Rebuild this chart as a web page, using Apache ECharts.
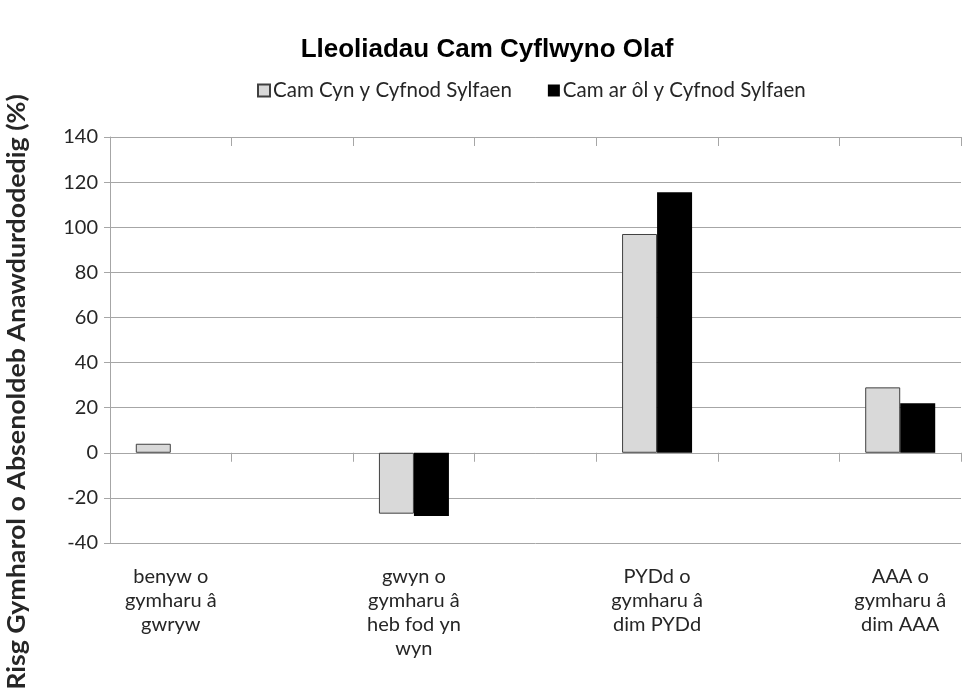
<!DOCTYPE html>
<html><head><meta charset="utf-8">
<script src="https://cdn.jsdelivr.net/npm/echarts@6/dist/echarts.min.js"></script>
<style>html,body{margin:0;padding:0;background:#fff}#c{width:967px;height:696px}</style>
</head><body><div id="c"></div>
<script>
const titleText = "Lleoliadau Cam Cyflwyno Olaf";
const yAxisName = "Risg Gymharol o Absenoldeb Anawdurdodedig (%)";
const categories = ["benyw o\ngymharu â\ngwryw", "", "gwyn o\ngymharu â\nheb fod yn\nwyn", "", "PYDd o\ngymharu â\ndim PYDd", "", "AAA o\ngymharu â\ndim AAA"];
const seriesNames = ["Cam Cyn y Cyfnod Sylfaen", "Cam ar ôl y Cyfnod Sylfaen"];
const beforeValues = [4, null, -27, null, 97, null, 29];
const afterValues = [0, null, -28, null, 115.5, null, 22];
const yMin = -40, yMax = 140, yInterval = 20;

const txt = '#262626';
const gridCol = '#a6a6a6';
const labelFont = 'Lato, "Open Sans", sans-serif';

const chart = echarts.init(document.getElementById('c'));
chart.setOption({
  animation: false,
  backgroundColor: '#fff',
  title: {
    text: titleText, left: 482, textAlign: 'center', top: 32,
    textStyle: {fontFamily: '"Liberation Sans", Arial, sans-serif', fontWeight: 'bold', fontSize: 26, color: '#000'}
  },
  legend: {
    top: 75, left: 252, itemWidth: 12, itemHeight: 12, itemGap: 36,
    icon: 'rect',
    textStyle: {fontFamily: labelFont, fontSize: 20.5, color: txt, padding: [0,0,0,-2]},
    data: seriesNames
  },
  graphic: [{
    type: 'text', x: 17, y: 392, rotation: Math.PI / 2, scaleX: 1.07,
    style: {text: yAxisName, align: 'center', verticalAlign: 'middle',
      font: 'bold 25px Lato, "Open Sans", sans-serif', fill: txt}
  }],
  grid: {left: 110, right: 6, top: 137, bottom: 153, containLabel: false},
  xAxis: [
    {type: 'category', data: categories, axisLine: {onZero: true, lineStyle: {color: gridCol, width: 1}},
     axisTick: {show: true, length: 9, lineStyle: {color: gridCol}}, axisLabel: {show: false}},
    {type: 'category', data: categories, position: 'bottom', axisLine: {show: false, onZero: false},
     axisTick: {show: false},
     axisLabel: {show: true, interval: 0, fontFamily: labelFont, fontSize: 20, lineHeight: 24, color: txt, margin: 22}},
    {type: 'category', data: categories, axisLine: {onZero: true, lineStyle: {color: gridCol, width: 1}},
     axisTick: {show: true, inside: true, length: 9, lineStyle: {color: gridCol}}, axisLabel: {show: false}}
  ],
  yAxis: {
    type: 'value', min: yMin, max: yMax, interval: yInterval,
    axisLine: {show: true, lineStyle: {color: gridCol}},
    axisTick: {show: true, length: 6, lineStyle: {color: gridCol}},
    axisLabel: {fontFamily: labelFont, fontSize: 20, color: txt, margin: 12},
    splitLine: {show: true, lineStyle: {color: gridCol, width: 1}}
  },
  series: [
    {name: seriesNames[0], type: 'bar', data: beforeValues, barWidth: 35, barGap: '0%',
     itemStyle: {color: '#d9d9d9', borderColor: '#404040', borderWidth: 1}},
    {name: seriesNames[1], type: 'bar', data: afterValues, barWidth: 35, barGap: '0%',
     itemStyle: {color: '#000000', borderWidth: 0}}
  ]
});
</script></body></html>
